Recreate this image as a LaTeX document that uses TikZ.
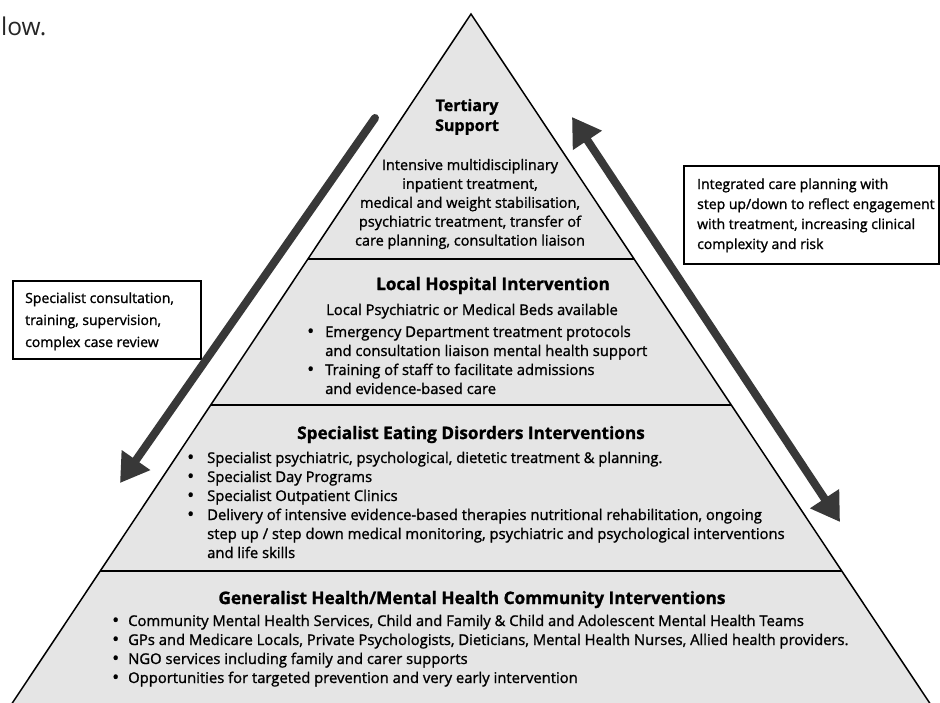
\documentclass[tikz,border=0pt]{standalone}
\usepackage{fontspec}
\setmainfont{Open Sans}[FakeBold=1.3]
\newfontfamily\plainfont{Open Sans}
\usetikzlibrary{arrows.meta,calc}
\newlength\bulind
\newcommand{\bul}{\makebox[\bulind][l]{\raisebox{-0.5pt}{\scalebox{1.25}{\textbullet}}}}
\newcommand{\nobul}{\hspace*{\bulind}}
\begin{document}
\begin{tikzpicture}[x=1pt,y=-1pt,
  txt/.style={inner sep=0pt, anchor=base west, font=\fontsize{14.8}{17}\selectfont},
  boxtxt/.style={inner sep=0pt, anchor=base west, font=\fontsize{14}{17}\selectfont},
  ctxt/.style={inner sep=0pt, anchor=base, font=\fontsize{14.5}{17}\selectfont},
  hd/.style={inner sep=0pt, anchor=base, font=\bfseries\fontsize{17.2}{20}\selectfont},
  frame/.style={draw=black, line width=1.8pt, inner sep=0pt, anchor=north west},
  pyredge/.style={line width=1.5pt, draw=black},
  divider/.style={line width=2.4pt, draw=black},
  bigarrow/.style={draw=black!78, line width=8pt},
  headtip/.tip={Triangle[length=28pt,width=33pt]}
]
\path[use as bounding box] (0,0) rectangle (940,702);
\fill[white] (0,0) rectangle (940,702);
\begin{scope}
\clip (0,0) rectangle (940,702);
\coordinate (apex) at (471,14);
\coordinate (bl) at (13,702);
\coordinate (br) at (929,702);
\filldraw[fill=black!10, pyredge] (apex) -- ($(apex)!1.04!(bl)$) -- ($(apex)!1.04!(br)$) -- cycle;
\end{scope}
% dividers
\foreach \yy/\nm in {259/da,405/db,571/dc}
  \draw[divider] ($(apex)!{(\yy-14)/688}!(bl)$) coordinate (\nm l) -- ($(apex)!{(\yy-14)/688}!(br)$) coordinate (\nm r);

% stray text
\node[inner sep=0pt, anchor=base west, font=\plainfont\fontsize{24.5}{28}\selectfont, text=black!85] (low) at (1,35) {low.};

% Tertiary
\node[hd, font=\bfseries\fontsize{16}{20}\selectfont] (th1) at (467,111) {Tertiary};
\node[hd, font=\bfseries\fontsize{16}{20}\selectfont] (th2) at (467,131) {Support};
\foreach \t [count=\i] in {{Intensive multidisciplinary},{inpatient treatment,},{medical and weight stabilisation,},{psychiatric treatment, transfer of},{care planning, consultation liaison}}
  \node[ctxt] (tb\i) at (470,{170+18.9*(\i-1)}) {\t};

% Local hospital
\node[hd] (lh) at (493,290) {Local Hospital Intervention};
\node[ctxt, font=\fontsize{14.8}{17}\selectfont] (lsub) at (472,315) {Local Psychiatric or Medical Beds available};
\setlength\bulind{18pt}
\foreach \t [count=\i] in {{\bul Emergency Department treatment protocols},{\nobul and consultation liaison mental health support},{\bul Training of staff to facilitate admissions},{\nobul and evidence-based care}}
  \node[txt] (lb\i) at (307,{337+19*(\i-1)}) {\t};

% Specialist
\node[hd] (sh) at (471,439) {Specialist Eating Disorders Interventions};
\setlength\bulind{20pt}
\foreach \t [count=\i] in {{\bul Specialist psychiatric, psychological, dietetic treatment \& planning.},{\bul Specialist Day Programs},{\bul Specialist Outpatient Clinics},{\bul Delivery of intensive evidence-based therapies nutritional rehabilitation, ongoing},{\nobul step up / step down medical monitoring, psychiatric and psychological interventions},{\nobul and life skills}}
  \node[txt] (sb\i) at (187,{463+19*(\i-1)}) {\t};

% Generalist
\node[hd] (gh) at (472,604) {Generalist Health/Mental Health Community Interventions};
\setlength\bulind{16pt}
\foreach \t [count=\i] in {{\bul Community Mental Health Services, Child and Family \& Child and Adolescent Mental Health Teams},{\bul GPs and Medicare Locals, Private Psychologists, Dieticians, Mental Health Nurses, Allied health providers.},{\bul NGO services including family and carer supports},{\bul Opportunities for targeted prevention and very early intervention}}
  \node[txt] (gb\i) at (112,{626+19*(\i-1)}) {\t};

% left box
\node[frame, minimum width=188pt, minimum height=78pt] (lbox) at (12,280) {};
\foreach \t [count=\i] in {{Specialist consultation,},{training, supervision,},{complex case review}}
  \node[boxtxt] (lt\i) at (25,{303+22*(\i-1)}) {\t};

% right box
\node[frame, minimum width=255pt, minimum height=98pt] (rbox) at (683,165) {};
\foreach \t [count=\i] in {{Integrated care planning with},{step up/down to reflect engagement},{with treatment, increasing clinical},{complexity and risk}}
  \node[boxtxt] (rt\i) at (697,{189+20*(\i-1)}) {\t};

% arrows
\coordinate (la-s) at (375,118);
\coordinate (la-e) at (120,483);
\draw[bigarrow, line cap=round, -{headtip}] (la-s) -- (la-e);
\coordinate (ra-s) at (572,117);
\coordinate (ra-e) at (840,522);
\draw[bigarrow, {headtip}-{headtip}] (ra-s) -- (ra-e);
\end{tikzpicture}
\end{document}
